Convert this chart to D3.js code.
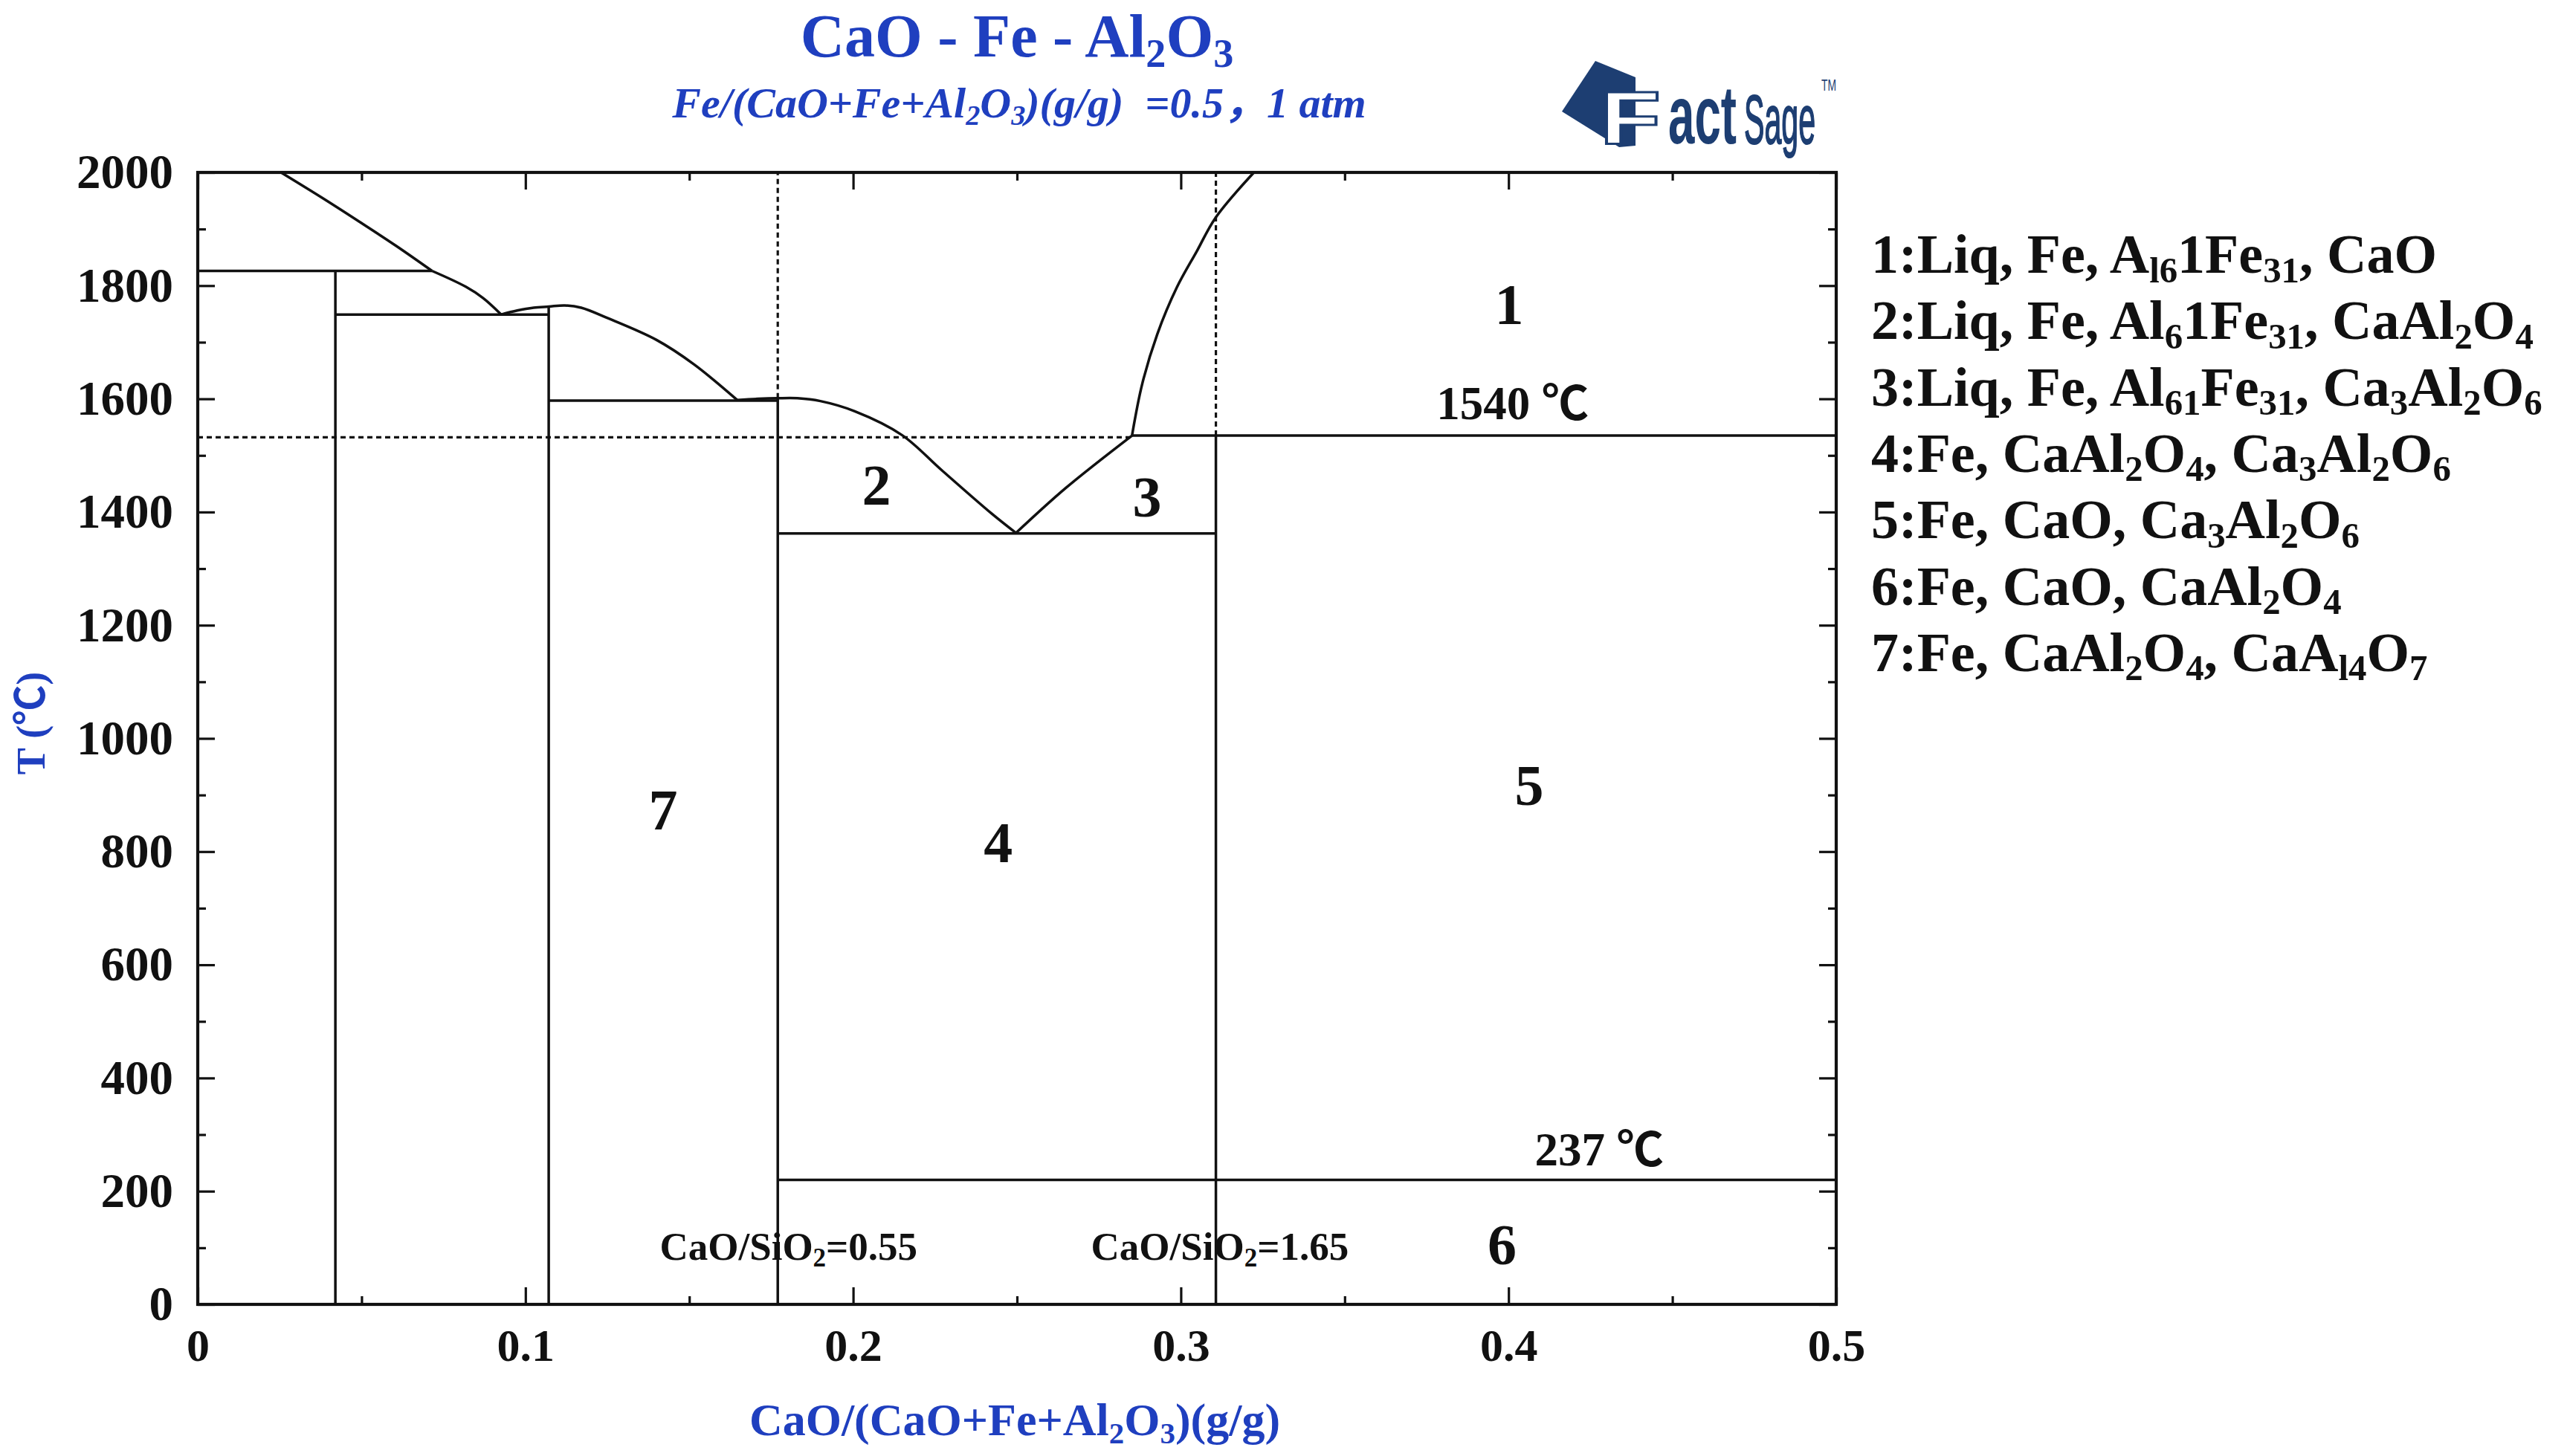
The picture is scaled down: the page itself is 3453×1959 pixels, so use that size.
<!DOCTYPE html>
<html>
<head>
<meta charset="utf-8">
<script src="https://cdn.jsdelivr.net/npm/d3@7"></script>
<style>
  body { margin: 0; background: #fff; }
  svg { display: block; }
  text { white-space: pre; }
</style>
</head>
<body>
<div id="chart"></div>
<script>
'use strict';

// axes
const xMajor = [0, 0.1, 0.2, 0.3, 0.4, 0.5];
const xMinor = [0.05, 0.15, 0.25, 0.35, 0.45];
const xTickLabels = ["0", "0.1", "0.2", "0.3", "0.4", "0.5"];
const tMajor = [0, 200, 400, 600, 800, 1000, 1200, 1400, 1600, 1800, 2000];
const tMinor = [100, 300, 500, 700, 900, 1100, 1300, 1500, 1700, 1900];

// liquidus curves [x, T]
const liqA = [[0.0254, 2000], [0.038, 1955], [0.0493, 1913], [0.0606, 1870], [0.0715, 1826]];
const liqB = [[0.0715, 1826], [0.0818, 1798], [0.0871, 1778], [0.0926, 1749]];
const liqC = [[0.0926, 1749], [0.0975, 1756], [0.1025, 1761], [0.1071, 1763], [0.112, 1765],
              [0.117, 1761], [0.1249, 1743], [0.140, 1704], [0.1514, 1661], [0.1646, 1598]];
const liqD = [[0.1646, 1598], [0.171, 1600], [0.177, 1601], [0.183, 1601], [0.190, 1596],
              [0.2005, 1578], [0.2149, 1536], [0.227, 1474], [0.2421, 1398], [0.2497, 1363]];
const liqE = [[0.2497, 1363], [0.2648, 1442], [0.2851, 1535]];
const liqF = [[0.2851, 1535], [0.2882, 1626], [0.2928, 1714], [0.2988, 1797], [0.3049, 1861],
              [0.3106, 1920], [0.3223, 2000]];

// solid phase boundaries
const solidLines = [
    [[0, 1826], [0.0715, 1826]],
    [[0.042, 1826], [0.042, 0]],
    [[0.042, 1749], [0.1071, 1749]],
    [[0.1071, 1763], [0.1071, 0]],
    [[0.1071, 1597], [0.177, 1597]],
    [[0.177, 1601], [0.177, 0]],
    [[0.177, 1362], [0.3107, 1362]],
    [[0.2851, 1535], [0.5, 1535]],
    [[0.3107, 1535], [0.3107, 0]],
    [[0.177, 220], [0.5, 220]]
];

// dotted guide lines
const dottedLines = [
    [[0, 1532], [0.2851, 1532]],
    [[0.177, 1601], [0.177, 2000]],
    [[0.3107, 1535], [0.3107, 2000]]
];

// region numbers [label, x, T(baseline)]
const regionLabels = [
    ["1", 0.4002, 1732], ["2", 0.2071, 1413], ["3", 0.2897, 1392], ["4", 0.2443, 781],
    ["5", 0.4063, 882], ["6", 0.398, 71], ["7", 0.142, 839]
];

// annotations [text, x, T, anchor]
const notes = [
    ["1540 ℃", 0.378, 1564, "start"],
    ["237 ℃", 0.408, 246, "start"],
    ["CaO/SiO_{2}=0.55", 0.1803, 79, "middle"],
    ["CaO/SiO_{2}=1.65", 0.3119, 79, "middle"]
];

const legendItems = [
    "1:Liq, Fe, A_{l6}1Fe_{31}, CaO",
    "2:Liq, Fe, Al_{6}1Fe_{31}, CaAl_{2}O_{4}",
    "3:Liq, Fe, Al_{61}Fe_{31}, Ca_{3}Al_{2}O_{6}",
    "4:Fe, CaAl_{2}O_{4}, Ca_{3}Al_{2}O_{6}",
    "5:Fe, CaO, Ca_{3}Al_{2}O_{6}",
    "6:Fe, CaO, CaAl_{2}O_{4}",
    "7:Fe, CaAl_{2}O_{4}, CaA_{l4}O_{7}"
];

const title = "CaO - Fe - Al_{2}O_{3}";
const subtitle = "Fe/(CaO+Fe+Al_{2}O_{3})(g/g)  =0.5，1 atm";
const xLabel = "CaO/(CaO+Fe+Al_{2}O_{3})(g/g)";
const yLabel = "T (℃)";

const width = 3453;
const height = 1959;
const plot = { left: 266, right: 2470, top: 232, bottom: 1755 };
const serif = "'Liberation Serif', 'Times New Roman', 'Noto Sans CJK SC', serif";
const sans = "'Liberation Sans', Arial, sans-serif";
const blue = "#1f3fbf";
const ink = "#111";
const lineW = 3.5;

const svg = d3.select("#chart")
    .append("svg")
    .attr("width", width)
    .attr("height", height)
    .attr("viewBox", `0 0 ${width} ${height}`)
    .style("background", "#fff");

const x = d3.scaleLinear().domain([0, 0.5]).range([plot.left, plot.right]);
const y = d3.scaleLinear().domain([0, 2000]).range([plot.bottom, plot.top]);

function addRich(sel, str, fs) {
    const parts = str.split(/(_\{[^}]*\})/).filter(s => s.length);
    const shift = fs * 0.17;
    let down = false;
    parts.forEach(p => {
        const sub = p.startsWith("_{");
        const ts = sel.append("tspan").text(sub ? p.slice(2, -1) : p);
        if (sub) {
            ts.attr("font-size", fs * 0.66);
            if (!down) ts.attr("dy", shift);
            down = true;
        } else {
            if (down) ts.attr("dy", -shift);
            down = false;
        }
    });
    return sel;
}

// axes
function styleAxis(g, fs) {
    g.select(".domain").remove();
    g.selectAll(".tick line").attr("stroke", ink).attr("stroke-width", 3.2);
    if (fs) {
        g.selectAll(".tick text")
            .attr("font-family", serif)
            .attr("font-weight", "bold")
            .attr("font-size", fs)
            .attr("fill", ink);
    } else {
        g.selectAll(".tick text").remove();
    }
}

svg.append("g")
    .attr("transform", `translate(0,${plot.bottom})`)
    .call(d3.axisBottom(x).tickValues(xMajor).tickFormat((d, i) => xTickLabels[i])
        .tickSize(-23).tickPadding(32))
    .call(g => styleAxis(g, 62));
svg.append("g")
    .attr("transform", `translate(0,${plot.bottom})`)
    .call(d3.axisBottom(x).tickValues(xMinor).tickSize(-11))
    .call(g => styleAxis(g, 0));
svg.append("g")
    .attr("transform", `translate(0,${plot.top})`)
    .call(d3.axisTop(x).tickValues(xMajor).tickSize(-23))
    .call(g => styleAxis(g, 0));
svg.append("g")
    .attr("transform", `translate(0,${plot.top})`)
    .call(d3.axisTop(x).tickValues(xMinor).tickSize(-11))
    .call(g => styleAxis(g, 0));

svg.append("g")
    .attr("transform", `translate(${plot.left},0)`)
    .call(d3.axisLeft(y).tickValues(tMajor).tickFormat(d3.format("d"))
        .tickSize(-23).tickPadding(33))
    .call(g => styleAxis(g, 65));
svg.append("g")
    .attr("transform", `translate(${plot.left},0)`)
    .call(d3.axisLeft(y).tickValues(tMinor).tickSize(-11))
    .call(g => styleAxis(g, 0));
svg.append("g")
    .attr("transform", `translate(${plot.right},0)`)
    .call(d3.axisRight(y).tickValues(tMajor).tickSize(-23))
    .call(g => styleAxis(g, 0));
svg.append("g")
    .attr("transform", `translate(${plot.right},0)`)
    .call(d3.axisRight(y).tickValues(tMinor).tickSize(-11))
    .call(g => styleAxis(g, 0));

svg.append("rect")
    .attr("x", plot.left).attr("y", plot.top)
    .attr("width", plot.right - plot.left).attr("height", plot.bottom - plot.top)
    .attr("fill", "none").attr("stroke", ink).attr("stroke-width", 4.2);

// boundaries
const straight = d3.line().x(d => x(d[0])).y(d => y(d[1]));
const smooth = d3.line().x(d => x(d[0])).y(d => y(d[1])).curve(d3.curveCatmullRom.alpha(0.5));

svg.append("g").selectAll("path")
    .data(dottedLines).join("path")
    .attr("d", straight)
    .attr("fill", "none").attr("stroke", ink).attr("stroke-width", 3.2)
    .attr("stroke-dasharray", "7,5");

svg.append("g").selectAll("path")
    .data(solidLines).join("path")
    .attr("d", straight)
    .attr("fill", "none").attr("stroke", ink).attr("stroke-width", lineW);

svg.append("g").selectAll("path")
    .data([liqA, liqB, liqC, liqD, liqE, liqF]).join("path")
    .attr("d", smooth)
    .attr("fill", "none").attr("stroke", ink).attr("stroke-width", lineW)
    .attr("stroke-linejoin", "round");

// region numbers
svg.append("g").selectAll("text")
    .data(regionLabels).join("text")
    .attr("x", d => x(d[1])).attr("y", d => y(d[2]))
    .attr("text-anchor", "middle")
    .attr("font-family", serif).attr("font-weight", "bold").attr("font-size", 78)
    .attr("fill", ink)
    .text(d => d[0]);

// annotations
notes.forEach(n => {
    const fs = n[3] === "start" ? 63 : 53;
    const t = svg.append("text")
        .attr("x", x(n[1])).attr("y", y(n[2]))
        .attr("text-anchor", n[3])
        .attr("font-family", serif).attr("font-weight", "bold")
        .attr("font-size", fs)
        .attr("fill", ink);
    addRich(t, n[0], fs);
});

// legend
svg.append("g").selectAll("text")
    .data(legendItems).join("text")
    .attr("x", 2517)
    .attr("y", (d, i) => 367 + i * 89.3)
    .attr("font-family", serif).attr("font-weight", "bold").attr("font-size", 74)
    .attr("fill", ink)
    .each(function (d) { addRich(d3.select(this), d, 74); });

// titles
addRich(svg.append("text")
    .attr("x", 1368).attr("y", 76)
    .attr("text-anchor", "middle")
    .attr("font-family", serif).attr("font-weight", "bold").attr("font-size", 82)
    .attr("fill", blue), title, 82);

addRich(svg.append("text")
    .attr("x", 1371).attr("y", 158)
    .attr("text-anchor", "middle")
    .attr("font-family", serif).attr("font-weight", "bold").attr("font-style", "italic")
    .attr("font-size", 58)
    .attr("fill", blue), subtitle, 58);

addRich(svg.append("text")
    .attr("x", 1365).attr("y", 1931)
    .attr("text-anchor", "middle")
    .attr("font-family", serif).attr("font-weight", "bold").attr("font-size", 62)
    .attr("fill", blue), xLabel, 62);

svg.append("text")
    .attr("transform", "translate(42,973) rotate(-90)")
    .attr("text-anchor", "middle")
    .attr("dominant-baseline", "central")
    .attr("font-family", serif).attr("font-weight", "bold").attr("font-size", 54)
    .attr("fill", blue)
    .text(yLabel);

// FactSage logo: each word squeezed horizontally to its width in the picture
const navy = "#1d3e72";
const logo = svg.append("g");
logo.append("path")
    .attr("d", "M2146,82 L2200,104 L2200,196 L2178,198 L2101,150 Z")
    .attr("fill", navy);

function logoWord(str, x0, base, w, fs, bold, fill) {
    const t = logo.append("text")
        .attr("font-family", sans)
        .attr("font-weight", bold ? "bold" : "normal")
        .attr("font-size", fs)
        .attr("fill", fill)
        .text(str);
    const natural = t.node().getComputedTextLength() || w;
    t.attr("transform", `translate(${x0},${base}) scale(${w / natural},1)`);
    return t;
}

logoWord("F", 2152, 193, 82, 100, true, "#fff")
    .attr("stroke", navy).attr("stroke-width", 3);
logoWord("act", 2244, 193, 92, 112, true, navy);
logoWord("Sage", 2346, 193, 96, 92, false, navy)
    .attr("stroke", navy).attr("stroke-width", 2);
logoWord("TM", 2450, 122, 20, 22, false, navy);
</script>
</body>
</html>
